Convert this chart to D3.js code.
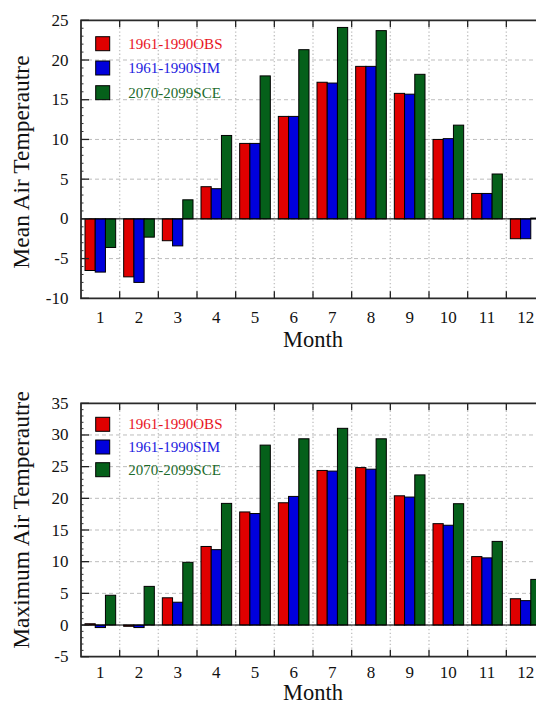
<!DOCTYPE html>
<html>
<head>
<meta charset="utf-8">
<script src="https://cdn.jsdelivr.net/npm/d3@7"></script>
<style>
  html,body{margin:0;padding:0;background:#fff;overflow:hidden;}
  svg{display:block;}
</style>
</head>
<body>
<div id="chart"></div>
<script>
// monthly temperature, observed / simulated / scenario

const months=[1,2,3,4,5,6,7,8,9,10,11,12];
const seriesNames=["1961-1990OBS","1961-1990SIM","2070-2099SCE"];

const meanObs=[-6.5,-7.3,-2.75,4.05,9.5,12.9,17.2,19.2,15.8,10.0,3.2,-2.5];
const meanSim=[-6.7,-8.0,-3.4,3.8,9.5,12.9,17.1,19.2,15.7,10.1,3.2,-2.5];
const meanSce=[-3.6,-2.3,2.4,10.5,18.0,21.3,24.1,23.7,18.2,11.8,5.65,0.1];

const maxObs=[0.2,-0.2,4.3,12.4,17.85,19.3,24.4,24.85,20.4,16.0,10.8,4.15];
const maxSim=[-0.4,-0.4,3.6,11.9,17.6,20.3,24.3,24.6,20.2,15.75,10.6,3.85];
const maxSce=[4.7,6.1,9.9,19.2,28.4,29.4,31.05,29.4,23.7,19.15,13.2,7.2];

const meanTicks=[-10,-5,0,5,10,15,20,25];
const maxTicks=[-5,0,5,10,15,20,25,30,35];

const barColors=["#e00000","#0000dc","#05601a"];
const textColors=["#e8141e","#1c1ce0","#1b6b2b"];

const FONT="'Liberation Serif','Times New Roman',serif";

const svg=d3.select("#chart").append("svg")
  .attr("width",536).attr("height",702);

function drawPanel(p){
  const x0=81, x1=545;
  const y=d3.scaleLinear().domain(p.domain).range([p.yBottom,p.yTop]);
  const x=d3.scaleBand().domain(months).range([x0,x1])
    .paddingInner(0.207).paddingOuter(0.1035);
  const xs=d3.scaleBand().domain(seriesNames).range([0,x.bandwidth()]);
  const step=x.step();
  const g=svg.append("g");

  // horizontal dashed grid
  g.append("g").selectAll("line").data(p.ticks.filter(t=>t!==p.domain[0]&&t!==p.domain[1])).join("line")
    .attr("x1",x0).attr("x2",x1).attr("y1",d=>y(d)).attr("y2",d=>y(d))
    .attr("stroke","#bdbdbd").attr("stroke-width",1).attr("stroke-dasharray","4,3");

  // vertical dotted grid at month boundaries
  const bounds=d3.range(1,12).map(i=>x0+i*step);
  g.append("g").selectAll("line").data(bounds).join("line")
    .attr("x1",d=>d).attr("x2",d=>d).attr("y1",p.yTop).attr("y2",p.yBottom)
    .attr("stroke","#c4c4c4").attr("stroke-width",1.4).attr("stroke-dasharray","1.3,2.4");

  // bars
  const rows=months.map((m,i)=>({m,vals:p.series.map((s,j)=>({name:seriesNames[j],v:s[i],j}))}));
  g.append("g").selectAll("g").data(rows).join("g")
    .attr("transform",d=>`translate(${x(d.m)},0)`)
    .selectAll("rect").data(d=>d.vals).join("rect")
    .attr("x",d=>xs(d.name)).attr("width",xs.bandwidth())
    .attr("y",d=>Math.min(y(d.v),y(0))).attr("height",d=>Math.abs(y(d.v)-y(0)))
    .attr("fill",d=>barColors[d.j]).attr("stroke","#000").attr("stroke-width",1);

  // zero line
  g.append("line").attr("x1",x0).attr("x2",x1).attr("y1",y(0)).attr("y2",y(0))
    .attr("stroke","#000").attr("stroke-width",1);

  // frame
  g.append("path")
    .attr("d",`M${x1},${p.yTop}H${x0}V${p.yBottom}H${x1}`)
    .attr("fill","none").attr("stroke","#2a2a2a").attr("stroke-width",1.8);

  // top/bottom ticks at boundaries
  g.append("g").selectAll("line").data(bounds).join("line")
    .attr("x1",d=>d).attr("x2",d=>d).attr("y1",p.yTop).attr("y2",p.yTop+7)
    .attr("stroke","#222").attr("stroke-width",1.3);
  g.append("g").selectAll("line").data(bounds).join("line")
    .attr("x1",d=>d).attr("x2",d=>d).attr("y1",p.yBottom).attr("y2",p.yBottom-7)
    .attr("stroke","#222").attr("stroke-width",1.3);

  // left ticks, major + minor
  const minor=d3.range(p.domain[0],p.domain[1]+1).filter(v=>v%5!==0);
  g.append("g").selectAll("line").data(minor).join("line")
    .attr("x1",x0).attr("x2",x0+2.5).attr("y1",d=>y(d)).attr("y2",d=>y(d))
    .attr("stroke","#333").attr("stroke-width",1);
  g.append("g").selectAll("line").data(p.ticks).join("line")
    .attr("x1",x0).attr("x2",x0+8).attr("y1",d=>y(d)).attr("y2",d=>y(d))
    .attr("stroke","#222").attr("stroke-width",1.3);

  // y tick labels
  g.append("g").selectAll("text").data(p.ticks).join("text")
    .attr("x",68.5).attr("y",d=>y(d)+5.5)
    .attr("text-anchor","end").attr("fill","#111")
    .style("font-family",FONT).style("font-size","17px")
    .text(d=>d);

  // month labels
  g.append("g").selectAll("text").data(months).join("text")
    .attr("x",d=>x(d)+x.bandwidth()/2).attr("y",p.yBottom+p.labelOff)
    .attr("text-anchor","middle").attr("fill","#111")
    .style("font-family",FONT).style("font-size","17px")
    .text(d=>d);

  g.append("text").attr("x",313).attr("y",p.monthY)
    .attr("text-anchor","middle").attr("fill","#111")
    .style("font-family",FONT).style("font-size","22.5px")
    .text("Month");

  g.append("text")
    .attr("transform",`translate(28.5,${p.labelY}) rotate(-90)`)
    .attr("text-anchor","middle").attr("fill","#111")
    .style("font-family",FONT).style("font-size","23.5px")
    .text(p.ylabel);

  // legend
  seriesNames.forEach((name,i)=>{
    const ly=p.legendY[i];
    g.append("rect").attr("x",95.7).attr("y",ly).attr("width",14).attr("height",14)
      .attr("fill",barColors[i]).attr("stroke","#000").attr("stroke-width",1);
    g.append("text").attr("x",128.3).attr("y",ly+11.8)
      .attr("fill",textColors[i])
      .style("font-family",FONT).style("font-size","15px")
      .text(name);
  });
}

drawPanel({
  domain:[-10,25],ticks:meanTicks,yTop:20.3,yBottom:298.3,
  series:[meanObs,meanSim,meanSce],
  labelOff:24.5,monthY:346.5,labelY:162,
  ylabel:"Mean Air Temperautre",
  legendY:[36.7,61,85.7]
});

drawPanel({
  domain:[-5,35],ticks:maxTicks,yTop:403.3,yBottom:656.7,
  series:[maxObs,maxSim,maxSce],
  labelOff:21.6,monthY:699.5,labelY:520,
  ylabel:"Maximum Air Temperautre",
  legendY:[417.3,440,462.7]
});
</script>
</body>
</html>
